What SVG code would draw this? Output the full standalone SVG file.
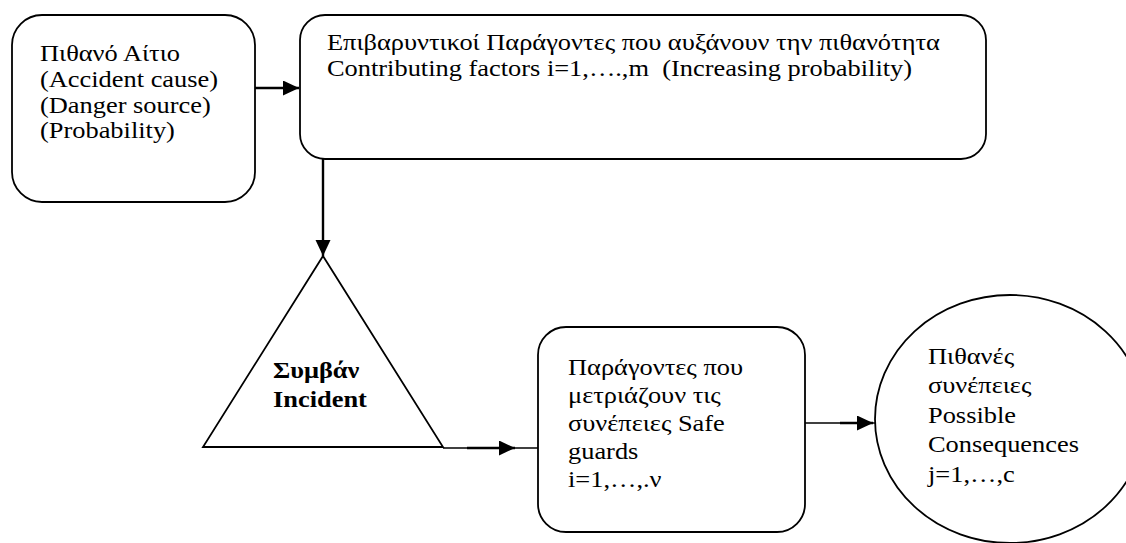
<svg xmlns="http://www.w3.org/2000/svg" width="1126" height="543" viewBox="0 0 1126 543">
  <style>
    .shape { fill: #ffffff; stroke: #000000; stroke-width: 1.8; }
    .wire { fill: none; stroke: #000000; stroke-width: 1.6; }
    .wire-bold { fill: none; stroke: #000000; stroke-width: 2.4; }
    .label { font-family: 'Liberation Serif', 'DejaVu Serif', serif; font-size: 24px; fill: #000000; white-space: pre; }
    .label-bold { font-weight: bold; }
  </style>
  <defs>
    <marker id="arrow" markerUnits="userSpaceOnUse" markerWidth="18" markerHeight="16" refX="16" refY="7.5" orient="auto">
      <path d="M0,0 L16,7.5 L0,15 Z" fill="#000000"/>
    </marker>
  </defs>

  <rect width="1126" height="543" fill="#ffffff"/>

  <!-- connectors -->
  <g id="connectors">
    <!-- cause to contributing factors -->
    <line class="wire-bold" x1="255" y1="88" x2="299" y2="88" marker-end="url(#arrow)"/>
    <!-- contributing factors to incident -->
    <line class="wire-bold" x1="323" y1="159" x2="323" y2="256" marker-end="url(#arrow)"/>
    <!-- incident to safeguards -->
    <line class="wire" x1="443" y1="448" x2="538" y2="448"/>
    <line class="wire-bold" x1="467" y1="448" x2="515" y2="448" marker-end="url(#arrow)"/>
    <!-- safeguards to consequences -->
    <line class="wire" x1="805" y1="423" x2="875" y2="423"/>
    <line class="wire-bold" x1="840" y1="423" x2="873" y2="423" marker-end="url(#arrow)"/>
  </g>

  <!-- accident cause -->
  <g id="node-cause">
    <rect class="shape" x="12" y="15" width="243" height="187" rx="30" ry="30"/>
    <text class="label" transform="translate(40,61) scale(1.1,1)">
      <tspan x="0" y="0">Πιθανό Αίτιο</tspan>
      <tspan x="0" y="26">(Accident cause)</tspan>
      <tspan x="0" y="52">(Danger source)</tspan>
      <tspan x="0" y="77.5">(Probability)</tspan>
    </text>
  </g>

  <!-- contributing factors -->
  <g id="node-factors">
    <rect class="shape" x="300" y="15" width="686" height="144" rx="25" ry="25"/>
    <text class="label" transform="translate(327,50) scale(1.1,1)">
      <tspan x="0" y="0">Επιβαρυντικοί Παράγοντες που αυξάνουν την πιθανότητα</tspan>
      <tspan x="0" y="26">Contributing factors i=1,….,m  (Increasing probability)</tspan>
    </text>
  </g>

  <!-- incident -->
  <g id="node-incident">
    <polygon class="shape" points="323,256 443,447 203,447"/>
    <text class="label label-bold" transform="translate(273,378) scale(1.1,1)">
      <tspan x="0" y="0">Συμβάν</tspan>
      <tspan x="0" y="29">Incident</tspan>
    </text>
  </g>

  <!-- safeguards -->
  <g id="node-safeguards">
    <rect class="shape" x="538" y="327" width="267" height="205" rx="28" ry="28"/>
    <text class="label" transform="translate(568,375) scale(1.1,1)">
      <tspan x="0" y="0">Παράγοντες που</tspan>
      <tspan x="0" y="28">μετριάζουν τις</tspan>
      <tspan x="0" y="56">συνέπειες Safe</tspan>
      <tspan x="0" y="84">guards</tspan>
      <tspan x="0" y="112">i=1,…,.ν</tspan>
    </text>
  </g>

  <!-- consequences -->
  <g id="node-consequences">
    <ellipse class="shape" cx="1010" cy="419" rx="135" ry="124"/>
    <text class="label" transform="translate(928,364) scale(1.1,1)">
      <tspan x="0" y="0">Πιθανές</tspan>
      <tspan x="0" y="29.5">συνέπειες</tspan>
      <tspan x="0" y="59">Possible</tspan>
      <tspan x="0" y="88.5">Consequences</tspan>
      <tspan x="0" y="118">j=1,…,c</tspan>
    </text>
  </g>
</svg>
